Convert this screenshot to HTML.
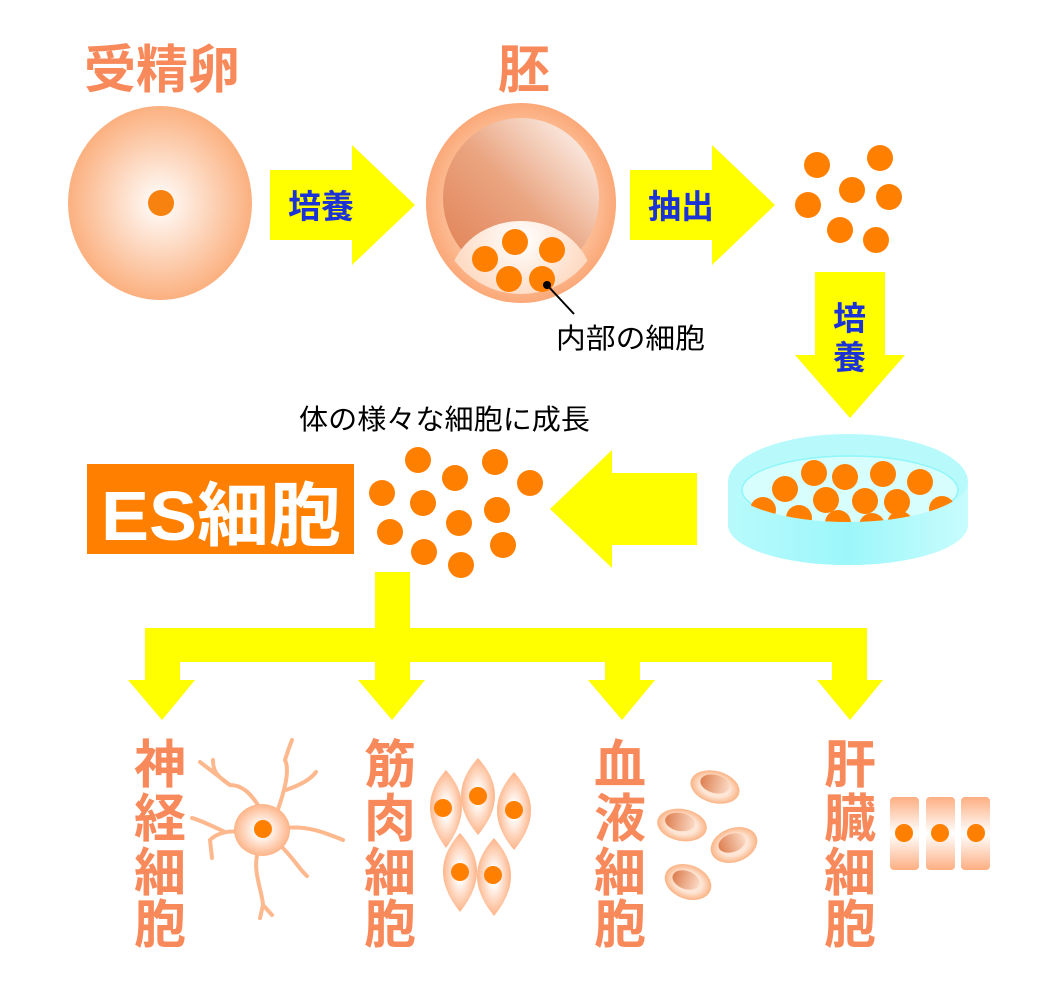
<!DOCTYPE html>
<html><head><meta charset="utf-8"><style>
html,body{margin:0;padding:0;background:#fff;}
svg{display:block;}
.t{font-family:"Liberation Sans","Noto Sans CJK JP",sans-serif;font-weight:bold;}
</style></head><body>
<svg width="1046" height="1002" viewBox="0 0 1046 1002" xmlns="http://www.w3.org/2000/svg">
<defs>
<radialGradient id="egg" cx="50%" cy="50%" r="50%"><stop offset="0" stop-color="#fff"/><stop offset="1" stop-color="#fbb07f"/></radialGradient>
<radialGradient id="ring" cx="50%" cy="50%" r="50%"><stop offset="0.7" stop-color="#fcc49e"/><stop offset="1" stop-color="#fba878"/></radialGradient>
<linearGradient id="cav" x1="0" y1="1" x2="1" y2="0"><stop offset="0" stop-color="#e07d50"/><stop offset="0.5" stop-color="#eaa581"/><stop offset="1" stop-color="#fff"/></linearGradient>
<radialGradient id="icm" cx="50%" cy="15%" r="75%"><stop offset="0" stop-color="#fff"/><stop offset="1" stop-color="#fcc49e"/></radialGradient>
<linearGradient id="dish" x1="0" x2="1"><stop offset="0" stop-color="#b8fafc"/><stop offset="0.5" stop-color="#9cf7fa"/><stop offset="1" stop-color="#c8fcfd"/></linearGradient>
<radialGradient id="cell" cx="50%" cy="50%" r="50%"><stop offset="0.2" stop-color="#fff"/><stop offset="1" stop-color="#fdb488"/></radialGradient>
<linearGradient id="liv" x1="0" y1="0" x2="0" y2="1"><stop offset="0" stop-color="#fdaf82"/><stop offset="0.5" stop-color="#fff"/><stop offset="1" stop-color="#fdaf82"/></linearGradient>
<linearGradient id="rbc" x1="0" x2="1"><stop offset="0" stop-color="#dd7f50"/><stop offset="1" stop-color="#fbd9c4"/></linearGradient>
<radialGradient id="rbco" cx="50%" cy="50%" r="50%"><stop offset="0.6" stop-color="#fde6d6"/><stop offset="1" stop-color="#fbb384"/></radialGradient>
<clipPath id="emb"><ellipse cx="521" cy="203" rx="86" ry="91"/></clipPath>
</defs>

<text class="t" x="84" y="88" font-size="52" fill="#f7895a">受精卵</text>
<text class="t" x="498" y="88" font-size="52" fill="#f7895a">胚</text>

<ellipse cx="160" cy="203" rx="92" ry="97" fill="url(#egg)"/>
<circle cx="161" cy="203" r="13" fill="#f7820f"/>

<polygon points="270,170 352,170 352,145 415,205 352,265 352,240 270,240" fill="#ffff00"/>
<text class="t" x="288" y="218" font-size="33" fill="#1a32d6">培養</text>

<ellipse cx="521" cy="203" rx="95" ry="100" fill="url(#ring)"/>
<ellipse cx="521" cy="198" rx="78" ry="80" fill="url(#cav)"/>
<g clip-path="url(#emb)"><ellipse cx="521" cy="285" rx="72" ry="64" fill="url(#icm)"/></g>
<g fill="#ff8000">
<circle cx="515" cy="242" r="13"/><circle cx="552" cy="250" r="13"/><circle cx="485" cy="259" r="13"/><circle cx="509" cy="279" r="13"/><circle cx="542" cy="279" r="13"/>
</g>
<circle cx="547" cy="285" r="4" fill="#000"/>
<line x1="547" y1="285" x2="574" y2="314" stroke="#000" stroke-width="2"/>
<text x="556" y="348" font-size="28" fill="#000" font-family="Liberation Sans, Noto Sans CJK JP, sans-serif" textLength="149" lengthAdjust="spacingAndGlyphs">内部の細胞</text>

<polygon points="630,170 712,170 712,145 775,205 712,265 712,240 630,240" fill="#ffff00"/>
<text class="t" x="648" y="218" font-size="33" fill="#1a32d6">抽出</text>

<g fill="#ff8000">
<circle cx="817" cy="165" r="13"/><circle cx="880" cy="158" r="13"/><circle cx="852" cy="190" r="13"/><circle cx="808" cy="205" r="13"/><circle cx="889" cy="197" r="13"/><circle cx="840" cy="230" r="13"/><circle cx="876" cy="240" r="13"/>
</g>

<polygon points="815,272 885,272 885,355 905,355 850,418 795,355 815,355" fill="#ffff00"/>
<text class="t" x="833" y="330" font-size="33" fill="#1a32d6">培</text>
<text class="t" x="833" y="369" font-size="33" fill="#1a32d6">養</text>

<path d="M728,482 L728,525 A120,40 0 0 0 968,525 L968,482 Z" fill="url(#dish)"/>
<ellipse cx="848" cy="482" rx="120" ry="48" fill="#b8fafc"/>
<ellipse cx="850" cy="490" rx="108" ry="34" fill="#d8fdfd" stroke="#8ff6f9" stroke-width="1.5"/>
<clipPath id="dc"><path d="M740,490 A108,34 0 0 1 958,490 L958,520 Q850,545 740,520 Z"/></clipPath>
<g fill="#ff8000" clip-path="url(#dc)">
<circle cx="814" cy="473" r="13"/><circle cx="785" cy="489" r="13"/><circle cx="845" cy="477" r="13"/><circle cx="883" cy="474" r="13"/><circle cx="920" cy="482" r="13"/><circle cx="826" cy="500" r="13"/><circle cx="865" cy="501" r="13"/><circle cx="897" cy="502" r="13"/><circle cx="763" cy="510" r="13"/><circle cx="799" cy="518" r="13"/><circle cx="838" cy="523" r="13"/><circle cx="872" cy="526" r="13"/><circle cx="900" cy="524" r="13"/><circle cx="942" cy="509" r="13"/>
</g>
<path d="M728,482 L728,525 A120,40 0 0 0 968,525 L968,482 A120,40 0 0 1 728,482 Z" fill="url(#dish)"/>

<polygon points="697,473 612,473 612,450 550,509 612,568 612,545 697,545" fill="#ffff00"/>
<text x="299" y="429" font-size="28" fill="#000" font-family="Liberation Sans, Noto Sans CJK JP, sans-serif" textLength="291" lengthAdjust="spacingAndGlyphs">体の様々な細胞に成長</text>

<rect x="87" y="464" width="267" height="90" fill="#ff8000"/>
<text class="t" x="101" y="540" font-size="70" fill="#fff" textLength="240" lengthAdjust="spacingAndGlyphs">ES細胞</text>

<g fill="#ff8000">
<circle cx="418" cy="460" r="13"/><circle cx="455" cy="478" r="13"/><circle cx="495" cy="462" r="13"/><circle cx="530" cy="483" r="13"/><circle cx="382" cy="493" r="13"/><circle cx="423" cy="503" r="13"/><circle cx="459" cy="523" r="13"/><circle cx="497" cy="510" r="13"/><circle cx="390" cy="532" r="13"/><circle cx="424" cy="552" r="13"/><circle cx="461" cy="565" r="13"/><circle cx="503" cy="545" r="13"/>
</g>

<g fill="#ffff00">
<rect x="375" y="572" width="35" height="60"/>
<rect x="145" y="628" width="722" height="34"/>
<polygon points="145,628 180,628 180,680 195,680 162,720 128,680 145,680"/>
<polygon points="375,640 410,640 410,680 425,680 392,720 358,680 375,680"/>
<polygon points="605,640 640,640 640,680 655,680 622,720 588,680 605,680"/>
<polygon points="832,628 867,628 867,680 883,680 850,720 817,680 832,680"/>
</g>

<g class="t" font-size="52" fill="#f7895a" text-anchor="middle">
<text x="160" y="783">神</text><text x="160" y="837">経</text><text x="160" y="891">細</text><text x="160" y="943">胞</text>
<text x="390" y="783">筋</text><text x="390" y="837">肉</text><text x="390" y="891">細</text><text x="390" y="943">胞</text>
<text x="620" y="783">血</text><text x="620" y="837">液</text><text x="620" y="891">細</text><text x="620" y="943">胞</text>
<text x="850" y="783">肝</text><text x="850" y="837">臓</text><text x="850" y="891">細</text><text x="850" y="943">胞</text>
</g>

<g stroke="#fdb88e" stroke-width="4" fill="none" stroke-linecap="round">
<path d="M262,812 C250,790 240,785 230,785 L200,762 M230,785 C215,775 213,770 213,760"/>
<path d="M276,815 C285,790 290,770 285,760 C288,750 290,745 292,740 M286,790 C300,785 310,780 316,772"/>
<path d="M285,828 C310,825 330,835 343,840"/>
<path d="M280,845 C295,860 300,870 307,876"/>
<path d="M258,852 C252,870 262,890 263,905 L260,918 M263,905 L272,915"/>
<path d="M240,832 C225,830 215,835 210,840 L212,858 M225,832 C210,825 200,820 192,818"/>
</g>
<ellipse cx="262" cy="830" rx="28" ry="26" fill="url(#cell)"/>
<circle cx="263" cy="829" r="9" fill="#ff8000"/>

<g fill="url(#cell)">
<path d="M446,770 Q478,805 446,848 Q414,805 446,770Z"/>
<path d="M478,758 Q512,795 478,835 Q444,795 478,758Z"/>
<path d="M514,772 Q548,810 514,850 Q480,810 514,772Z"/>
<path d="M460,833 Q494,870 460,912 Q426,870 460,833Z"/>
<path d="M494,838 Q528,875 494,916 Q460,875 494,838Z"/>
</g>
<g fill="#ff8000">
<circle cx="443" cy="808" r="9"/><circle cx="478" cy="796" r="9"/><circle cx="514" cy="810" r="9"/><circle cx="460" cy="872" r="9"/><circle cx="493" cy="875" r="9"/>
</g>

<g>
<ellipse cx="715" cy="787" rx="25" ry="16" fill="url(#rbco)" transform="rotate(15 715 787)"/>
<ellipse cx="715" cy="784" rx="15" ry="9" fill="url(#rbc)" transform="rotate(15 715 784)"/>
<ellipse cx="682" cy="825" rx="25" ry="16" fill="url(#rbco)" transform="rotate(10 682 825)"/>
<ellipse cx="680" cy="822" rx="15" ry="9" fill="url(#rbc)" transform="rotate(10 680 822)"/>
<ellipse cx="734" cy="845" rx="24" ry="17" fill="url(#rbco)" transform="rotate(-20 734 845)"/>
<ellipse cx="732" cy="843" rx="14" ry="9" fill="url(#rbc)" transform="rotate(-20 732 843)"/>
<ellipse cx="688" cy="882" rx="24" ry="17" fill="url(#rbco)" transform="rotate(20 688 882)"/>
<ellipse cx="686" cy="880" rx="14" ry="9" fill="url(#rbc)" transform="rotate(20 686 880)"/>
</g>

<g fill="url(#liv)">
<rect x="890" y="797" width="29" height="73" rx="4"/>
<rect x="926" y="797" width="29" height="73" rx="4"/>
<rect x="961" y="797" width="29" height="73" rx="4"/>
</g>
<g fill="#ff8000"><circle cx="904" cy="833" r="9"/><circle cx="940" cy="833" r="9"/><circle cx="976" cy="833" r="9"/></g>
</svg>
</body></html>
